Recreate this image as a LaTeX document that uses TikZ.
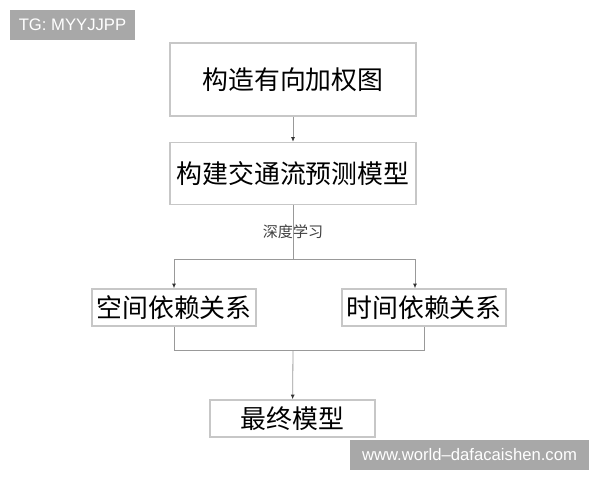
\documentclass[tikz,border=0pt]{standalone}
\usepackage{fontspec}
\setmainfont{Liberation Sans}
\newfontfamily\cjk{Noto Sans CJK SC}
\usetikzlibrary{arrows.meta, positioning}
\tikzstyle{block} = [rectangle, draw=black!22, line width=1.1pt, font=\cjk\fontsize{19.4pt}{22pt}\selectfont, inner sep=0pt, text centered]
\tikzstyle{line} = [draw, black!40, line width=0.6pt, -{Latex[length=3.5pt, width=3pt, black!80]}]
\tikzstyle{link} = [draw, black!40, line width=0.6pt]
\tikzstyle{tag} = [rectangle, fill=black!34, text=white, inner sep=0pt, font=\fontsize{12.5pt}{14pt}\selectfont]

\begin{document}
\begin{tikzpicture}[x=0.75pt, y=-0.75pt, node distance=18.75pt and 1.5cm]
        \useasboundingbox (0,0) rectangle (600,480);
        % Nodes
        \node [tag, minimum width=93.75pt, minimum height=22.5pt] (tg) at (72.5,25) {TG: MYYJJPP};
        \node [block, minimum width=184.5pt, minimum height=54.75pt] (graph) at (293,79.5) {构造有向加权图};
        \node [block, minimum width=184.5pt, minimum height=46.5pt, below=of graph] (predict) {构建交通流预测模型};
        \node [block, minimum width=123pt, minimum height=27.75pt] (spatial) at (174,307.5) {空间依赖关系};
        \node [block, minimum width=123pt, minimum height=27.75pt] (temporal) at (424,307.5) {时间依赖关系};
        \node [block, minimum width=123.75pt, minimum height=27.75pt] (final) at (292.5,418.5) {最终模型};
        \node [tag, minimum width=179.25pt, minimum height=22.5pt] (site) at (469.5,455) {www.world–dafacaishen.com};
        \coordinate (split) at (293,259);
        \coordinate (merge) at (293,350);

        % Arrows
        \path [line] (graph) -- (predict);
        \path [link] (predict) -- node[midway, font=\cjk\fontsize{11.3pt}{13pt}\selectfont, text=black!75] {深度学习} (split);
        \path [line] (split) -| (spatial.north);
        \path [line] (split) -| ([xshift=-6.75pt]temporal.north);
        \path [link] (spatial.south) |- (merge) -| (temporal.south);
        \path [line] (merge) -- (final);
    \end{tikzpicture}
\end{document}
